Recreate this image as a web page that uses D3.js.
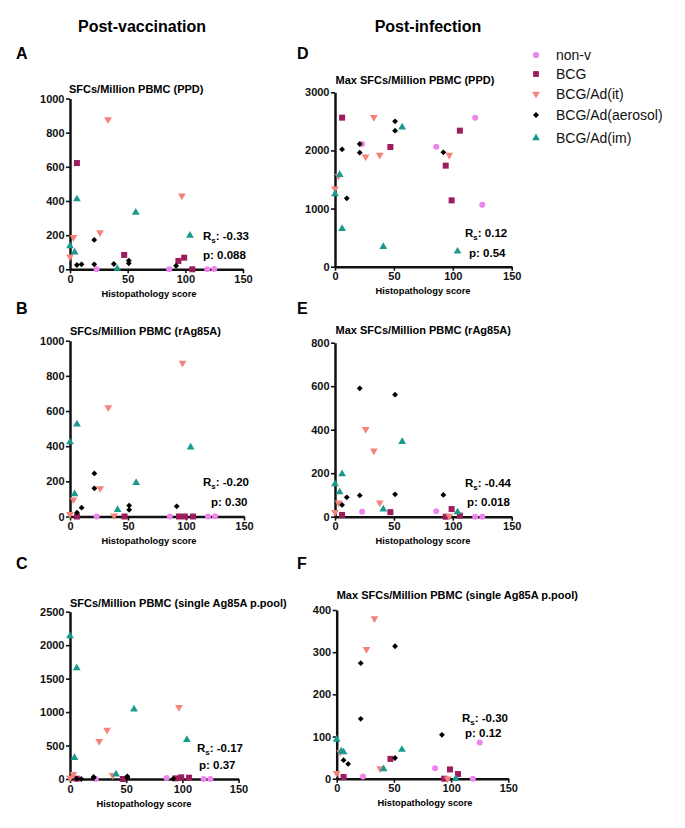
<!DOCTYPE html>
<html>
<head>
<meta charset="utf-8">
<script src="https://cdn.jsdelivr.net/npm/d3@7"></script>
<style>
  html, body { margin: 0; padding: 0; background: #fff; }
  svg text { font-family: "Liberation Sans", Arial, Helvetica, sans-serif; }
</style>
</head>
<body>
<div id="chart"></div>
<script>
// ---------------- DATA ----------------
const groupNames = ["non-v", "BCG", "BCG/Ad(it)", "BCG/Ad(aerosol)", "BCG/Ad(im)"];

// Histopathology scores per animal, by group
const scoreNonV    = [23, 86, 119, 125];
const scoreBCG     = [6, 47, 94, 99, 106];
const scoreIt      = [0, 3, 26, 33, 38, 97];
const scoreAerosol = [6, 10, 21, 21, 38, 51, 51, 92];
const scoreIm      = [0, 4, 6, 41, 57, 104];

// Panel A: SFCs/Million PBMC (PPD), post-vaccination
const aNonV    = [0, 0, 0, 2];
const aBCG     = [622, 84, 49, 68, 0];
const aIt      = [74, 188, 215, 877, null, 430];
const aAerosol = [25, 29, 172, 29, 31, 51, 35, 21];
const aIm      = [137, 100, 411, 4, 333, 198];

// Panel B: SFCs/Million PBMC (rAg85A)
const bNonV    = [0, 0, 0, 2];
const bBCG     = [0, 0, 0, 0, 0];
const bIt      = [13, 96, 160, 620, 5, 873];
const bAerosol = [22, 50, 245, 160, null, 62, 38, 58];
const bIm      = [423, 128, 525, 38, 192, 394];

// Panel C: SFCs/Million PBMC (single Ag85A p.pool)
const cNonV    = [0, 15, 0, 0];
const cBCG     = [5, 0, 10, 25, 20];
const cIt      = [20, 70, 563, 732, 55, 1072];
const cAerosol = [5, 0, 30, 15, null, 40, 20, 5];
const cIm      = [2137, 318, 1660, 70, 1042, 588];

// Panel D: Max SFCs/Million PBMC (PPD), post-infection
const dNonV    = [2111, 2065, 2564, 1067];
const dBCG     = [2564, 2059, 1738, 1141, 2340];
const dIt      = [1342, 1560, 1893, 2570, 1922, 1922];
const dAerosol = [2019, 1176, 2111, 1962, null, 2501, 2340, 1968];
const dIm      = [1250, 1583, 654, 344, 2398, 264];

// Panel E: Max SFCs/Million PBMC (rAg85A)
const eNonV    = [23, 25, 0, 0];
const eBCG     = [8, 21, 0, 35, 5];
const eIt      = [20, 64, 402, 303, 64, 3];
const eAerosol = [54, 89, 590, 98, null, 561, 103, 100];
const eIm      = [150, 113, 196, 34, 345, 21];

// Panel F: Max SFCs/Million PBMC (single Ag85A p.pool)
const fNonV    = [5, 25, 0, 86];
const fBCG     = [4, 47, 0, 22, 11];
const fIt      = [13, 63, 307, 380, 24, 0];
const fAerosol = [44, 35, 274, 142, null, 314, 49, 104];
const fIm      = [93, 65, 63, 23, 69, 0];

const panelLetters = ["A", "B", "C", "D", "E", "F"];
const panelTitles = [
  "SFCs/Million PBMC (PPD)",
  "SFCs/Million PBMC (rAg85A)",
  "SFCs/Million PBMC (single Ag85A p.pool)",
  "Max SFCs/Million PBMC (PPD)",
  "Max SFCs/Million PBMC (rAg85A)",
  "Max SFCs/Million PBMC (single Ag85A p.pool)"
];
const rsValues = ["-0.33", "-0.20", "-0.17", "0.12", "-0.44", "-0.30"];
const pValues  = ["0.088", "0.30", "0.37", "0.54", "0.018", "0.12"];
const xTickValues = [0, 50, 100, 150];
const yTicksA = [0, 200, 400, 600, 800, 1000];
const yTicksB = [0, 200, 400, 600, 800, 1000];
const yTicksC = [0, 500, 1000, 1500, 2000, 2500];
const yTicksD = [0, 1000, 2000, 3000];
const yTicksE = [0, 200, 400, 600, 800];
const yTicksF = [0, 100, 200, 300, 400];
const columnHeaders = ["Post-vaccination", "Post-infection"];
const xAxisLabel = "Histopathology score";

// ---------------- STYLE / LAYOUT ----------------
const groupColors = ["#EE85EE", "#9E1C5C", "#F5837B", "#000000", "#1A998C"];
const groupShapes = ["circle", "square", "triDown", "diamond", "triUp"];
const scores = [scoreNonV, scoreBCG, scoreIt, scoreAerosol, scoreIm];

const panelValues = [
  [aNonV, aBCG, aIt, aAerosol, aIm],
  [bNonV, bBCG, bIt, bAerosol, bIm],
  [cNonV, cBCG, cIt, cAerosol, cIm],
  [dNonV, dBCG, dIt, dAerosol, dIm],
  [eNonV, eBCG, eIt, eAerosol, eIm],
  [fNonV, fBCG, fIt, fAerosol, fIm]
];
const panelYTicks = [yTicksA, yTicksB, yTicksC, yTicksD, yTicksE, yTicksF];

// layout: plot box, title, stats positions
const layout = [
  { x0: 70,    x1: 243,   y0: 269.3, y1: 98.5,  letter: [16, 59],   title: [69, 93],    label: 149, rs: [203, 240], p: [203, 259] },
  { x0: 70,    x1: 244,   y0: 516.5, y1: 340.7, letter: [16, 314],  title: [70, 335],   label: 149, rs: [203, 486], p: [211, 506] },
  { x0: 70,    x1: 238.5, y0: 779,   y1: 611.7, letter: [16, 569],  title: [70, 607],   label: 144, rs: [197, 752], p: [199, 769] },
  { x0: 335,   x1: 511.7, y0: 266.7, y1: 92.3,  letter: [297, 59],  title: [335.5, 84], label: 423, rs: [465, 237], p: [469, 257] },
  { x0: 335,   x1: 511.7, y0: 516.7, y1: 342.7, letter: [297, 314], title: [335.5, 334],label: 423, rs: [465, 487], p: [467, 506] },
  { x0: 336.7, x1: 508.3, y0: 778.7, y1: 610,   letter: [297, 569], title: [336.7, 599],label: 425, rs: [462, 722], p: [465, 737] }
];

const W = 685, H = 828;
const svg = d3.select("#chart").append("svg")
  .attr("width", W).attr("height", H)
  .attr("viewBox", `0 0 ${W} ${H}`);

svg.append("rect").attr("width", W).attr("height", H).attr("fill", "#fff");

function symbolPath(shape, size) {
  switch (shape) {
    case "circle":  return d3.symbol(d3.symbolCircle, size)();
    case "square":  return d3.symbol(d3.symbolSquare, size)();
    case "triUp":   return d3.symbol(d3.symbolTriangle, size)();
    case "triDown": return d3.symbol(d3.symbolTriangle, size)();
    case "diamond": return d3.symbol(d3.symbolSquare, size)();
  }
}
function symbolRotate(shape) {
  if (shape === "triDown") return " rotate(180)";
  if (shape === "diamond") return " rotate(45)";
  return "";
}
const plotSizes = { circle: 28, square: 36, triUp: 26, triDown: 26, diamond: 17 };
const legendSizes = { circle: 30, square: 34, triUp: 26, triDown: 26, diamond: 18 };

// Column headers
svg.append("text").attr("x", 142).attr("y", 32).attr("text-anchor", "middle")
  .attr("font-size", 16).attr("font-weight", "bold").text(columnHeaders[0]);
svg.append("text").attr("x", 428).attr("y", 32).attr("text-anchor", "middle")
  .attr("font-size", 16).attr("font-weight", "bold").text(columnHeaders[1]);

panelValues.forEach((vals, pi) => {
  const L = layout[pi];
  const ticks = panelYTicks[pi];
  const x = d3.scaleLinear().domain([0, 150]).range([L.x0, L.x1]);
  const y = d3.scaleLinear().domain([0, d3.max(ticks)]).range([L.y0, L.y1]);
  const g = svg.append("g");

  // letter
  g.append("text").attr("x", L.letter[0]).attr("y", L.letter[1])
    .attr("font-size", 16).attr("font-weight", "bold").text(panelLetters[pi]);

  // title
  g.append("text").attr("x", L.title[0]).attr("y", L.title[1])
    .attr("font-size", 11).attr("font-weight", "bold").text(panelTitles[pi]);

  // axes
  const yAxis = d3.axisLeft(y).tickValues(ticks).tickSize(4).tickSizeOuter(0).tickPadding(1.5)
    .tickFormat(d3.format("d"));
  const yg = g.append("g").attr("transform", `translate(${L.x0},0)`).call(yAxis);
  const xAxis = d3.axisBottom(x).tickValues(xTickValues).tickSize(4).tickSizeOuter(0).tickPadding(2)
    .tickFormat(d3.format("d"));
  const xg = g.append("g").attr("transform", `translate(0,${L.y0})`).call(xAxis);
  [yg, xg].forEach(a => {
    a.select(".domain").attr("stroke", "#111").attr("stroke-width", 2.5);
    a.selectAll(".tick line").attr("stroke", "#111").attr("stroke-width", 1.6);
    a.selectAll(".tick text").attr("font-size", 11).attr("font-weight", "bold")
      .attr("fill", "#111").attr("font-family", "Liberation Sans, Arial, sans-serif");
  });

  // x label
  g.append("text").attr("x", L.label).attr("y", L.y0 + 27.5).attr("text-anchor", "middle")
    .attr("font-size", 9.3).attr("font-weight", "bold").text(xAxisLabel);

  // points
  vals.forEach((arr, gi) => {
    const pts = arr.map((v, i) => ({ sx: scores[gi][i], v })).filter(d => d.v !== null);
    const shape = groupShapes[gi];
    g.append("g").selectAll("path").data(pts).join("path")
      .attr("d", symbolPath(shape, plotSizes[shape]))
      .attr("transform", d => `translate(${x(d.sx)},${y(d.v)})${symbolRotate(shape)}`)
      .attr("fill", groupColors[gi]);
  });

  // stats
  const rs = g.append("text").attr("x", L.rs[0]).attr("y", L.rs[1])
    .attr("font-size", 11.5).attr("font-weight", "bold");
  rs.append("tspan").text("R");
  rs.append("tspan").attr("font-size", 8).attr("dy", 3).text("s");
  rs.append("tspan").attr("dy", -3).text(": " + rsValues[pi]);
  g.append("text").attr("x", L.p[0]).attr("y", L.p[1])
    .attr("font-size", 11.5).attr("font-weight", "bold").text("p: " + pValues[pi]);
});

// Legend
const legendY = [55, 74, 94, 115, 138];
const legend = svg.append("g");
groupNames.forEach((name, gi) => {
  const shape = groupShapes[gi];
  legend.append("path")
    .attr("d", symbolPath(shape, legendSizes[shape]))
    .attr("transform", `translate(536,${legendY[gi]})${symbolRotate(shape)}`)
    .attr("fill", groupColors[gi]);
  legend.append("text").attr("x", 556).attr("y", legendY[gi] + 5)
    .attr("font-size", 14).attr("fill", "#111").text(name);
});
</script>
</body>
</html>
